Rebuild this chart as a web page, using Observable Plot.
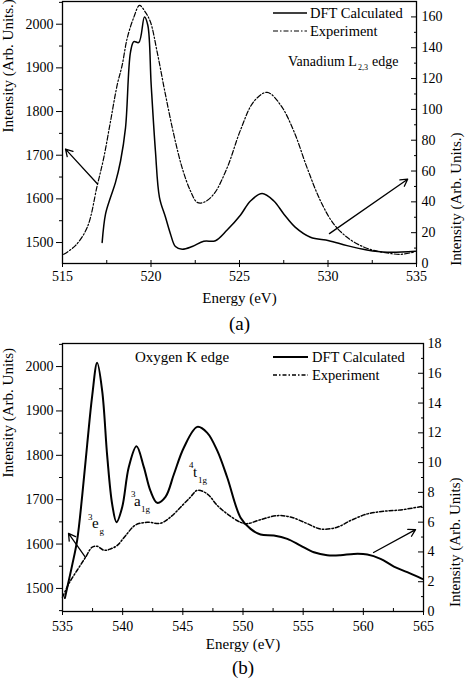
<!DOCTYPE html>
<html><head><meta charset="utf-8">
<script src="https://cdn.jsdelivr.net/npm/d3@7"></script>
<script src="https://cdn.jsdelivr.net/npm/@observablehq/plot@0.6"></script>
<style>
body{margin:0;background:#fff;}
#chart{width:466px;}
#chart svg{display:block;overflow:visible;font-family:'Liberation Serif','DejaVu Serif',serif;}
</style>
</head><body><div id="chart"></div>
<script>
// ---------- Panel (a): Vanadium L2,3 edge ----------
const vDftEnergy = [517.24,517.43,517.71,517.99,518.28,518.56,518.84,519.03,519.31,519.63,519.82,520.01,520.25,520.48,520.82,521.1,521.38,521.76,522.33,522.98,523.64,524.3,525.06,525.62,526.28,526.94,527.51,528.16,529.01,530.05,531.08,532.2,533.34,534.94];
const vDftValue  = [13.7,32,42.8,52.5,66.5,88,137,144,143.4,160,154.6,116,73,42.8,30,19.2,11,9.2,11,14.4,14.8,21.7,31.5,40.6,45.4,40.6,32,23.4,17,14.8,11.6,8.8,7.3,7.9];
const vExpEnergy = [515.07,515.73,516.4,516.96,517.33,517.71,518.09,518.37,518.65,519.03,519.35,519.69,519.97,520.35,520.82,521.29,521.76,522.23,522.61,522.98,523.55,524.3,525.06,525.81,526.56,527.32,528.07,528.82,529.58,530.33,531.08,531.84,532.59,533.34,534.1,534.85];
const vExpValue  = [1473,1493,1535,1630,1694,1777,1861,1906,1967,2016,2043,2027,2005,1936,1838,1747,1671,1618,1592,1592,1611,1671,1758,1823,1844,1815,1755,1671,1595,1542,1512,1493,1482,1476,1473,1478];
const vLeftTicks = [1500,1600,1700,1800,1900,2000];
const vRightTicks = [0,20,40,60,80,100,120,140,160];
const vXTicks = [515,520,525,530,535];
// arrows: left arrow in left units, right arrow in right units
const vArrowLeft  = [{x1:516.98,y1:1634,x2:515.17,y2:1714}];
const vArrowRight = [{x1:530.08,y1:19.4,x2:534.5,y2:54.7}];

// ---------- Panel (b): Oxygen K edge ----------
const oDftEnergy = [535.2,535.39,535.8,536.22,536.64,537.05,537.47,537.88,538.3,538.72,539.13,539.49,539.96,540.51,541.15,541.76,542.31,542.87,543.56,544.25,545.08,546.2,547.03,547.86,548.69,549.8,550.63,551.46,552.56,553.68,554.78,555.89,557.0,558.1,559.21,560.33,561.43,562.54,563.65,564.9];
const oDftValue  = [0.9,1.6,3.1,4.8,7.8,11.2,14.5,16.7,14.8,10.4,7.2,6.0,7.0,9.7,11.1,9.7,8.1,7.3,7.7,9.2,11.0,12.4,12.0,10.8,9.0,6.3,5.55,5.17,5.1,4.88,4.43,3.98,3.78,3.78,3.87,3.83,3.54,3.02,2.64,2.19];
const oExpEnergy = [535.0,535.53,536.22,536.91,537.47,537.88,538.44,538.99,539.55,540.24,541.07,542.04,543.15,543.98,544.81,545.64,546.2,547.03,547.86,548.69,549.8,550.35,551.46,552.85,553.95,555.34,556.45,557.83,558.94,560.33,561.71,563.1,564.9];
const oExpValue  = [1480,1511,1541,1570,1593,1595,1586,1589,1597,1619,1643,1649,1647,1661,1683,1706,1721,1713,1687,1668,1649,1646,1655,1664,1661,1646,1634,1638,1653,1668,1674,1677,1685];
const oLeftTicks = [1500,1600,1700,1800,1900,2000];
const oRightTicks = [0,2,4,6,8,10,12,14,16,18];
const oXTicks = [535,540,545,550,555,560,565];
const oArrowLeft  = [{x1:536.91,y1:1570,x2:535.5,y2:1624}];
const oArrowRight = [{x1:560.85,y1:3.96,x2:564.34,y2:5.5}];

const FONT = "'Liberation Serif', 'DejaVu Serif', serif";

function panel(cfg) {
  const toLeft = d3.scaleLinear().domain(cfg.rightDomain).range(cfg.leftDomain);
  const dft = cfg.dftE.map((e, i) => ({e, v: toLeft(cfg.dftV[i])}));
  const exp = cfg.expE.map((e, i) => ({e, v: cfg.expV[i]}));
  const arrR = cfg.arrowR.map(a => ({x1: a.x1, x2: a.x2, y1: toLeft(a.y1), y2: toLeft(a.y2)}));
  const xMinor = d3.range(cfg.xDomain[0], cfg.xDomain[1] + 0.01, 2.5).filter(d => !cfg.xTicks.includes(d));
  const lMinor = d3.range(cfg.leftTicks[0] - 50, cfg.leftDomain[1], 50).filter(d => !cfg.leftTicks.includes(d) && d >= cfg.leftDomain[0]);
  const rStep = cfg.rightTicks[1] - cfg.rightTicks[0];
  const rMinor = d3.range(rStep / 2, cfg.rightDomain[1], rStep).map(toLeft);
  const fmtR = d => String(Math.round(toLeft.invert(d)));
  const svg = Plot.plot({
    width: 466, height: cfg.height,
    marginLeft: 62, marginRight: cfg.marginRight, marginTop: cfg.marginTop, marginBottom: cfg.marginBottom,
    style: {fontFamily: FONT, fontSize: "14px", color: "#000", background: "#fff", overflow: "visible"},
    x: {domain: cfg.xDomain},
    y: {domain: cfg.leftDomain},
    marks: [
      Plot.frame({stroke: "#000", strokeWidth: 1.3}),
      // bottom axis
      Plot.axisX({ticks: cfg.xTicks, tickSize: 4, tickPadding: cfg.xPad, tickFormat: d => String(d), label: null, fontSize: 14}),
      Plot.axisX({ticks: cfg.xTicks, tickSize: 3, dy: -3, tickFormat: () => "", label: null}),
      Plot.axisX({ticks: xMinor, tickSize: 3, dy: -3, tickFormat: () => "", label: null}),
      // left axis
      Plot.axisY({ticks: cfg.leftTicks, tickSize: 6, tickPadding: 3, tickFormat: d => String(d), label: null, fontSize: 14}),
      Plot.axisY({ticks: lMinor, tickSize: 3, tickFormat: () => "", label: null}),
      // right axis (inward ticks)
      Plot.axisY({anchor: "right", ticks: cfg.rightTicks.map(toLeft), tickSize: 6, dx: -6, tickFormat: () => "", label: null}),
      Plot.axisY({anchor: "right", ticks: rMinor, tickSize: 3, dx: -3, tickFormat: () => "", label: null}),
      Plot.axisY({anchor: "right", ticks: cfg.rightTicks.map(toLeft), tickSize: 0, tickPadding: cfg.rPad, tickFormat: fmtR, label: null, fontSize: 14}),
      // curves
      Plot.line(exp, {x: "e", y: "v", stroke: "#000", strokeWidth: cfg.expWidth, strokeDasharray: cfg.dash, curve: "catmull-rom"}),
      Plot.line(dft, {x: "e", y: "v", stroke: "#000", strokeWidth: cfg.dftWidth, curve: "catmull-rom"}),
      // arrows
      Plot.arrow(cfg.arrowL, {x1: "x1", y1: "y1", x2: "x2", y2: "y2", stroke: "#000", strokeWidth: 1.3, headLength: 9}),
      Plot.arrow(arrR, {x1: "x1", y1: "y1", x2: "x2", y2: "y2", stroke: "#000", strokeWidth: 1.3, headLength: 9}),
      // axis titles
      Plot.text(["Energy (eV)"], {frameAnchor: "bottom", dy: cfg.energyDy, lineAnchor: "middle", fontSize: 15, fontFamily: FONT}),
      Plot.text([cfg.tag], {frameAnchor: "bottom", dy: cfg.tagDy, lineAnchor: "middle", fontSize: 19, fontFamily: FONT}),
      Plot.text([cfg.yLabel], {frameAnchor: "left", dx: -54, rotate: -90, lineAnchor: "middle", fontSize: 15, fontFamily: FONT}),
      Plot.text([cfg.yLabel], {frameAnchor: "right", dx: cfg.rLabelDx, rotate: -90, lineAnchor: "middle", fontSize: 15, fontFamily: FONT})
    ]
  });
  const s = d3.select(svg);
  const g = s.append("g").attr("font-family", FONT).attr("fill", "#000").attr("text-anchor", "start");
  // legend
  cfg.legend.forEach((L) => {
    g.append("line").attr("x1", L.x1).attr("x2", L.x2).attr("y1", L.y).attr("y2", L.y)
      .attr("stroke", "#000").attr("stroke-width", L.w).attr("stroke-dasharray", L.dash || null);
    g.append("text").attr("x", L.tx).attr("y", L.y).attr("dy", "0.35em").attr("font-size", 14.5).text(L.label);
  });
  // rich annotations (super/subscripts)
  cfg.notes.forEach(n => {
    n.parts.forEach(p => {
      g.append("text").attr("x", p.x).attr("y", p.y).attr("font-size", p.size).text(p.t);
    });
  });
  return svg;
}

const container = document.getElementById("chart");
container.append(panel({
  height: 340, marginTop: 1, marginBottom: 77, marginRight: 50,
  xDomain: [515, 535], xTicks: vXTicks, xPad: 4,
  leftDomain: [1452, 2052], leftTicks: vLeftTicks,
  rightDomain: [0, 170], rightTicks: vRightTicks, rPad: 5,
  dftE: vDftEnergy, dftV: vDftValue, expE: vExpEnergy, expV: vExpValue,
  dftWidth: 1.5, expWidth: 1.2, dash: "5,2,1.5,2",
  arrowL: vArrowLeft, arrowR: vArrowRight,
  energyDy: 35, tag: "(a)", tagDy: 60, yLabel: "Intensity (Arb. Units.)", rLabelDx: 40,
  legend: [
    {x1: 273, x2: 307, y: 13, tx: 310, w: 1.3, label: "DFT Calculated"},
    {x1: 273, x2: 307, y: 31, tx: 310, w: 1.2, dash: "5,2,1.5,2", label: "Experiment"}
  ],
  notes: [
    {parts: [
      {x: 288, y: 66, size: 14, t: "Vanadium L"},
      {x: 358, y: 70, size: 8, t: "2,3"},
      {x: 372, y: 66, size: 14, t: "edge"}
    ]}
  ]
}));
container.append(panel({
  height: 341, marginTop: 3, marginBottom: 70, marginRight: 43,
  xDomain: [535, 565], xTicks: oXTicks, xPad: 6,
  leftDomain: [1448, 2052], leftTicks: oLeftTicks,
  rightDomain: [0, 18], rightTicks: oRightTicks, rPad: 4,
  dftE: oDftEnergy, dftV: oDftValue, expE: oExpEnergy, expV: oExpValue,
  dftWidth: 2, expWidth: 1.5, dash: "4,2,1.5,2",
  arrowL: oArrowLeft, arrowR: oArrowRight,
  energyDy: 33, tag: "(b)", tagDy: 56, yLabel: "Intensity (Arb. Units)", rLabelDx: 32,
  legend: [
    {x1: 273, x2: 308, y: 17, tx: 312, w: 2, label: "DFT Calculated"},
    {x1: 273, x2: 308, y: 35, tx: 312, w: 1.5, dash: "4,2,1.5,2", label: "Experiment"}
  ],
  notes: [
    {parts: [{x: 135, y: 22, size: 15, t: "Oxygen K edge"}]},
    {parts: [
      {x: 88, y: 180, size: 9, t: "3"},
      {x: 92, y: 188, size: 15, t: "e"},
      {x: 99.5, y: 194, size: 9, t: "g"}
    ]},
    {parts: [
      {x: 131, y: 157, size: 9, t: "3"},
      {x: 134, y: 166, size: 15, t: "a"},
      {x: 141, y: 172, size: 9, t: "1g"}
    ]},
    {parts: [
      {x: 189, y: 128, size: 9, t: "4"},
      {x: 193, y: 137, size: 15, t: "t"},
      {x: 198, y: 143, size: 9, t: "1g"}
    ]}
  ]
}));
</script>
</body></html>
